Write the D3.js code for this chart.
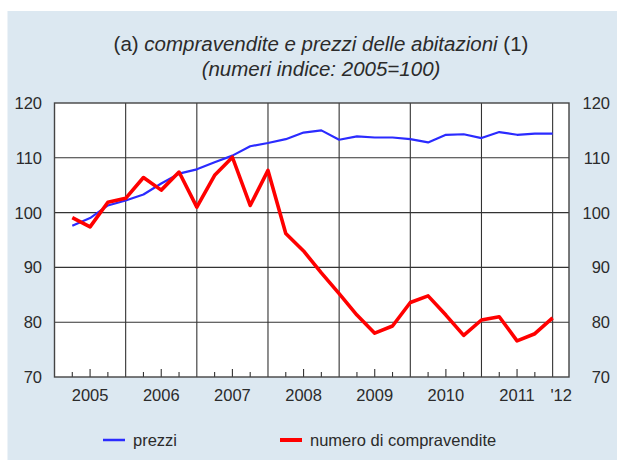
<!DOCTYPE html>
<html>
<head>
<meta charset="utf-8">
<script src="https://cdn.jsdelivr.net/npm/d3@7"></script>
<style>
  body { margin: 0; background: #fff; }
  text { font-family: "Liberation Sans", Arial, sans-serif; fill: #2b2b2b; }
</style>
</head>
<body>
<svg width="617" height="460"></svg>
<script>
// quarterly data, 2005 Q1 .. 2011 Q4 (index numbers, 2005=100)
const prezzi = [97.6, 99.0, 101.3, 102.2, 103.3, 105.3, 107.1, 107.9,
  109.2, 110.4, 112.1, 112.7, 113.4, 114.6, 115.0, 113.3,
  113.9, 113.7, 113.7, 113.4, 112.8, 114.2, 114.3, 113.6,
  114.7, 114.2, 114.4, 114.4];
const compravendite = [99.1, 97.4, 101.9, 102.6, 106.4, 104.1, 107.4, 101.0,
  106.8, 110.1, 101.3, 107.7, 96.2, 93.0, 89.0, 85.2,
  81.3, 78.0, 79.3, 83.6, 84.8, 81.3, 77.6, 80.4,
  81.0, 76.6, 77.9, 80.8];
const years = [2005, 2006, 2007, 2008, 2009, 2010, 2011];
const yTicks = [70, 80, 90, 100, 110, 120];

const svg = d3.select("svg");

// background panel
svg.append("rect")
  .attr("x", 7.5).attr("y", 11)
  .attr("width", 610).attr("height", 449)
  .attr("fill", "#dce8f1");

// title
const title = svg.append("text")
  .attr("x", 321).attr("y", 51)
  .attr("text-anchor", "middle")
  .style("font-size", "20.5px");
title.append("tspan").text("(a) ");
title.append("tspan").style("font-style", "italic").text("compravendite e prezzi delle abitazioni");
title.append("tspan").text(" (1)");

svg.append("text")
  .attr("x", 321).attr("y", 75.5)
  .attr("text-anchor", "middle")
  .style("font-size", "20.5px")
  .style("font-style", "italic")
  .text("(numeri indice: 2005=100)");

// plot
const pLeft = 54.5, pRight = 569, pTop = 103, pBottom = 377;
const x = d3.scaleLinear().domain([2005, 2012.23]).range([pLeft, pRight]);
const y = d3.scaleLinear().domain([70, 120]).range([pBottom, pTop]);

svg.append("rect")
  .attr("x", pLeft).attr("y", pTop)
  .attr("width", pRight - pLeft).attr("height", pBottom - pTop)
  .attr("fill", "#fff");

// horizontal grid
svg.append("g")
  .selectAll("line")
  .data(yTicks.slice(1, -1))
  .join("line")
  .attr("x1", pLeft).attr("x2", pRight)
  .attr("y1", d => y(d)).attr("y2", d => y(d))
  .attr("stroke", "#333").attr("stroke-width", 1.1);

// vertical year lines
svg.append("g")
  .selectAll("line")
  .data(years.slice(1).concat([2012]))
  .join("line")
  .attr("x1", d => x(d)).attr("x2", d => x(d))
  .attr("y1", pTop).attr("y2", pBottom)
  .attr("stroke", "#333").attr("stroke-width", 1.1);

// quarter ticks
const quarters = [];
years.forEach(yr => [0.25, 0.5, 0.75].forEach(q => quarters.push(yr + q)));
svg.append("g")
  .selectAll("line")
  .data(quarters)
  .join("line")
  .attr("x1", d => x(d)).attr("x2", d => x(d))
  .attr("y1", pBottom)
  .attr("y2", d => pBottom - ((d % 1) === 0.5 ? 8 : 5))
  .attr("stroke", "#333").attr("stroke-width", 1.1);

// plot border
svg.append("rect")
  .attr("x", pLeft).attr("y", pTop)
  .attr("width", pRight - pLeft).attr("height", pBottom - pTop)
  .attr("fill", "none")
  .attr("stroke", "#444").attr("stroke-width", 1.4);

// y labels (both sides)
svg.append("g")
  .selectAll("text")
  .data(yTicks)
  .join("text")
  .attr("x", 42).attr("y", d => y(d) + 6)
  .attr("text-anchor", "end")
  .style("font-size", "16.5px")
  .text(d => d);
svg.append("g")
  .selectAll("text")
  .data(yTicks)
  .join("text")
  .attr("x", 610).attr("y", d => y(d) + 6)
  .attr("text-anchor", "end")
  .style("font-size", "16.5px")
  .text(d => d);

// x labels
svg.append("g")
  .selectAll("text")
  .data(years)
  .join("text")
  .attr("x", d => x(d + 0.5)).attr("y", 401)
  .attr("text-anchor", "middle")
  .style("font-size", "16.5px")
  .text(d => d);
svg.append("text")
  .attr("x", x(2012.12)).attr("y", 401)
  .attr("text-anchor", "middle")
  .style("font-size", "16.5px")
  .text("'12");

// lines
const line = d3.line()
  .x((d, i) => x(2005 + (i + 1) * 0.25))
  .y(d => y(d));

svg.append("path")
  .datum(prezzi)
  .attr("fill", "none")
  .attr("stroke", "#2b2bff")
  .attr("stroke-width", 2.2)
  .attr("stroke-linejoin", "round")
  .attr("d", line);

svg.append("path")
  .datum(compravendite)
  .attr("fill", "none")
  .attr("stroke", "#ff0000")
  .attr("stroke-width", 3.6)
  .attr("stroke-linejoin", "round")
  .attr("d", line);

// legend
const legend = [
  { label: "prezzi", color: "#2b2bff", w: 2.5, x: 103 },
  { label: "numero di compravendite", color: "#ff0000", w: 4, x: 280 }
];
legend.forEach(l => {
  svg.append("line")
    .attr("x1", l.x).attr("x2", l.x + 22)
    .attr("y1", 440).attr("y2", 440)
    .attr("stroke", l.color).attr("stroke-width", l.w);
  svg.append("text")
    .attr("x", l.x + 30).attr("y", 446)
    .style("font-size", "16.5px")
    .text(l.label);
});
</script>
</body>
</html>
